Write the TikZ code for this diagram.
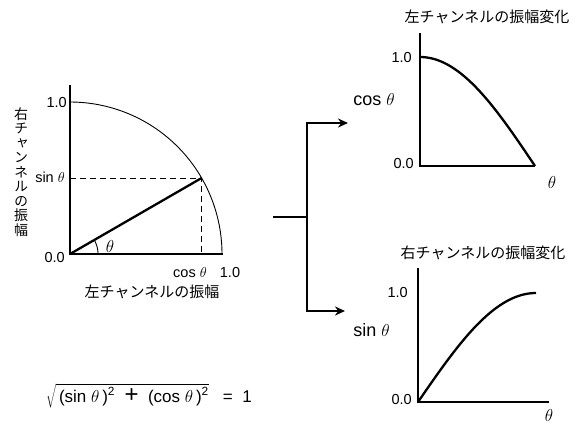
\documentclass[tikz,border=0pt]{standalone}
\usepackage{fontspec}
\setmainfont{Liberation Sans}
\newfontfamily\jpfont{Noto Sans CJK JP}
\newfontfamily\jpvert[RawFeature=+vert]{Noto Sans CJK JP}
\usetikzlibrary{arrows.meta,positioning,calc}
\tikzset{
  axisln/.style  ={line width=1.3pt},
  curveln/.style ={line width=2.3pt},
  dashln/.style  ={line width=1pt, dash pattern=on 6pt off 4pt},
  numlbl/.style  ={font=\fontsize{14.5}{14.5}\selectfont, inner sep=1pt},
  funlbl/.style  ={font=\fontsize{18}{18}\selectfont, inner sep=1pt},
  thlbl/.style   ={font=\fontsize{17}{17}\selectfont, inner sep=1pt},
  jplbl/.style   ={font=\fontsize{15}{15}\selectfont\jpfont, inner sep=1pt},
  barr/.style    ={-{Stealth[length=10pt,width=9pt]}, line width=2.6pt},
}

\begin{document}
\begin{tikzpicture}[x=1pt,y=-1pt]
  \useasboundingbox (0,0) rectangle (578,423);
  %% unit circle
  \coordinate (o) at (70,254);
  \coordinate (p) at ({70+152*cos(30)},{254-152*sin(30)});
  \draw[axisln] (70,85) -- (o) -- (223,254);
  \draw[line width=0.9pt] plot[domain=0:90,samples=60] ({70+152*cos(\x)},{254-152*sin(\x)});
  \draw[line width=0.9pt] plot[domain=0:30,samples=15] ({70+28*cos(\x)},{254-28*sin(\x)});
  \draw[curveln] (o) -- (p);
  \draw[dashln] (70,178) -- (p) -- (p |- o);
  \node[numlbl, anchor=east] (one) at (68,103) {1.0};
  \node[numlbl, anchor=east] (sinl) at (66,177) {sin $\theta$};
  \node[numlbl, anchor=east] (zero) at (66,258) {0.0};
  \node[numlbl] (cosl) at (190,273) {cos $\theta$};
  \node[numlbl] (onex) at (230,273) {1.0};
  \node[thlbl] (th) at (110,246) {$\theta$};
  \node[jplbl] (xlbl) at (152,292) {左チャンネルの振幅};
  \node[font=\fontsize{14}{14.5}\selectfont\jpvert, align=center, inner sep=0pt] (ylbl) at (21,172)
    {右\\チ\\ャ\\ン\\ネ\\ル\\の\\振\\幅};
  \node[font=\fontsize{17}{17}\selectfont] (eq) at (149,396)
    {$\sqrt{\mbox{\,(sin $\theta$\,)\textsuperscript{2} \;{\fontsize{24}{24}\selectfont +}\; (cos $\theta$\,)\textsuperscript{2}}}$\;\; = \;1};
  %% fork arrows
  \coordinate (stub) at (273,217);
  \coordinate (fork) at (307,217);
  \coordinate (topend) at (348,123);
  \coordinate (botend) at (345,311);
  \draw[barr] (stub) -- (fork) |- (topend);
  \draw[barr] (fork) |- (botend);
  %% cos plot
  \draw[axisln] (420,33) -- (420,166) -- (535,166);
  \draw[curveln] plot[domain=0:90,samples=50] ({420+115*\x/90},{166-109*cos(\x)});
  \node[numlbl, anchor=east] (cone) at (413,58) {1.0};
  \node[numlbl, anchor=east] (czero) at (415,164) {0.0};
  \node[funlbl, anchor=east] (cosf) at (396,100) {cos $\theta$};
  \node[thlbl] (cth) at (552,182) {$\theta$};
  \node[jplbl] (ctitle) at (487,17) {左チャンネルの振幅変化};
  %% sin plot
  \draw[axisln] (418,268) -- (418,402) -- (549,402);
  \draw[curveln] plot[domain=0:90,samples=50] ({418+118*\x/90},{402-109*sin(\x)});
  \node[numlbl, anchor=east] (sone) at (409,293) {1.0};
  \node[numlbl, anchor=east] (szero) at (413,400) {0.0};
  \node[funlbl, anchor=east] (sinf) at (391,330) {sin $\theta$};
  \node[thlbl] (sth) at (549,415) {$\theta$};
  \node[jplbl] (stitle) at (483,253) {右チャンネルの振幅変化};
\end{tikzpicture}
\end{document}
